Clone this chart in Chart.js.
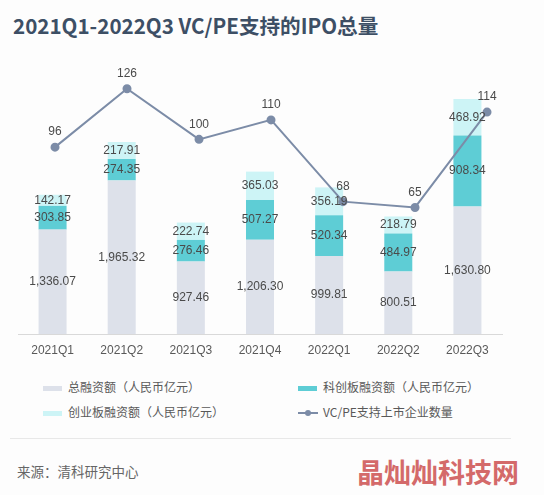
<!DOCTYPE html>
<html>
<head>
<meta charset="utf-8">
<script src="https://cdn.jsdelivr.net/npm/chart.js@4/dist/chart.umd.min.js"></script>
<style>
  html, body { margin:0; padding:0; background:#fdfdfd; }
  body { width:544px; height:495px; position:relative; overflow:hidden;
         font-family:"Liberation Sans","Noto Sans CJK SC",sans-serif; }
  #title { position:absolute; left:13px; top:10px; font-family:"Noto Sans CJK SC",sans-serif;
           font-weight:bold; font-size:20.6px; color:#3d4f65; white-space:nowrap; letter-spacing:0px; }
  #wrap { position:absolute; left:0; top:40px; width:544px; height:330px; }
  .lg { position:absolute; font-size:12px; color:#595959; white-space:nowrap; line-height:14px;
        font-family:"Noto Sans CJK SC",sans-serif; }
  .sw { position:absolute; width:19px; height:5px; }
  #sep { position:absolute; left:10px; width:501px; top:438px; height:1px; background:#e8e8e8; }
  #src { position:absolute; left:17px; top:461px; font-size:13.5px; color:#666;
         font-family:"Noto Sans CJK SC",sans-serif; white-space:nowrap; }
  #wm { position:absolute; left:357px; top:452px; font-size:27px; font-weight:bold; color:#d46a6a;
        font-family:"Noto Sans CJK SC",sans-serif; white-space:nowrap; letter-spacing:0px; }
</style>
</head>
<body>
<div id="title">2021Q1-2022Q3 VC/PE支持的IPO总量</div>
<div id="wrap"><canvas id="c"></canvas></div>
<div id="legend"></div>
<div id="sep"></div>
<div id="src">来源：清科研究中心</div>
<div id="wm">晶灿灿科技网</div>
<script>
const categories = ['2021Q1','2021Q2','2021Q3','2021Q4','2022Q1','2022Q2','2022Q3'];
const totalFinancing = [1336.07, 1965.32, 927.46, 1206.30, 999.81, 800.51, 1630.80];
const starMarketFinancing = [303.85, 274.35, 276.46, 507.27, 520.34, 484.97, 908.34];
const chinextFinancing = [142.17, 217.91, 222.74, 365.03, 356.19, 218.79, 468.92];
const ipoCount = [96, 126, 100, 110, 68, 65, 114];
const seriesNames = ['总融资额（人民币亿元）','科创板融资额（人民币亿元）','创业板融资额（人民币亿元）','VC/PE支持上市企业数量'];
const colors = { total:'#dde1ea', star:'#5ecdd5', chinext:'#cdf4f6', line:'#7c8ca7', text:'#4a4a4a' };

const fmt = v => v.toLocaleString('en-US',{minimumFractionDigits:2, maximumFractionDigits:2});

const labelPlugin = {
  id:'labels',
  afterDatasetsDraw(chart){
    const ctx = chart.ctx;
    ctx.save();
    ctx.font = '12px "Liberation Sans", Arial, sans-serif';
    ctx.fillStyle = colors.text;
    ctx.textAlign = 'center';
    ctx.textBaseline = 'middle';
    chart.data.datasets.forEach((ds, di) => {
      const meta = chart.getDatasetMeta(di);
      meta.data.forEach((el, i) => {
        const v = ds.data[i];
        if (ds.type === 'line') {
          ctx.fillText(String(v.y), el.x, el.y - 15);
        } else {
          ctx.fillText(fmt(v), el.x, (el.y + el.base) / 2);
        }
      });
    });
    ctx.restore();
  }
};

const chart = new Chart(document.getElementById('c'), {
  type:'bar',
  data: {
    labels: categories,
    datasets: [
      { type:'line', label:seriesNames[3], data: ipoCount.map((v,i)=>({x:i, y:v})),
        xAxisID:'x2', yAxisID:'y1', borderColor:colors.line, backgroundColor:colors.line,
        borderWidth:2, pointRadius:3.5, pointHoverRadius:3.5, tension:0, order:0 },
      { type:'bar', label:seriesNames[0], data: totalFinancing, backgroundColor:colors.total,
        stack:'s', grouped:false, xAxisID:'x', yAxisID:'y', order:1 },
      { type:'bar', label:seriesNames[1], data: starMarketFinancing, backgroundColor:colors.star,
        stack:'s', grouped:false, xAxisID:'x', yAxisID:'y', order:1 },
      { type:'bar', label:seriesNames[2], data: chinextFinancing, backgroundColor:colors.chinext,
        stack:'s', grouped:false, xAxisID:'x', yAxisID:'y', order:1 }
    ]
  },
  options: {
    responsive:true, maintainAspectRatio:false, animation:false,
    layout:{ padding:{ left:18, right:42, top:10, bottom:0 } },
    datasets:{ bar:{ categoryPercentage:1, barPercentage:0.405, grouped:false } },
    plugins:{ legend:{display:false}, tooltip:{enabled:false}, title:{display:false} },
    scales:{
      x:{ type:'category', stacked:true, offset:true,
          grid:{ display:false, drawTicks:false },
          border:{ display:true, color:'#d9d9d9', width:1 },
          ticks:{ color:'#595959', font:{ size:12, family:'"Liberation Sans", Arial, sans-serif' }, padding:9 },
          afterFit(s){ s.height = 36; } },
      x2:{ type:'linear', display:false, offset:false, grid:{offset:false}, min:-0.514, max:6.208 },
      y:{ stacked:true, display:false, min:0, max:3635 },
      y1:{ display:false, stacked:false, min:0, max:145.9 }
    }
  },
  plugins:[labelPlugin]
});

// HTML legend built from series names/colours
const lg = document.getElementById('legend');
const items = [
  { name:seriesNames[0], color:colors.total, x:43, y:388, kind:'box' },
  { name:seriesNames[1], color:colors.star, x:298, y:388, kind:'box' },
  { name:seriesNames[2], color:colors.chinext, x:43, y:413, kind:'box' },
  { name:seriesNames[3], color:colors.line, x:298, y:413, kind:'line' }
];
items.forEach(it => {
  if (it.kind === 'box') {
    const s = document.createElement('div'); s.className='sw';
    s.style.left = it.x+'px'; s.style.top = (it.y-2.5)+'px'; s.style.background = it.color;
    lg.appendChild(s);
  } else {
    const l = document.createElement('div'); l.style.position='absolute';
    l.style.left = it.x+'px'; l.style.top=(it.y-1)+'px'; l.style.width='20px'; l.style.height='2px';
    l.style.background = it.color; lg.appendChild(l);
    const d = document.createElement('div'); d.style.position='absolute';
    d.style.left=(it.x+7)+'px'; d.style.top=(it.y-3)+'px'; d.style.width='6px'; d.style.height='6px';
    d.style.borderRadius='50%'; d.style.background=it.color; lg.appendChild(d);
  }
  const t = document.createElement('div'); t.className='lg'; t.textContent = it.name;
  t.style.left = (it.x+25)+'px'; t.style.top = (it.y-8)+'px';
  lg.appendChild(t);
});
</script>
</body>
</html>
